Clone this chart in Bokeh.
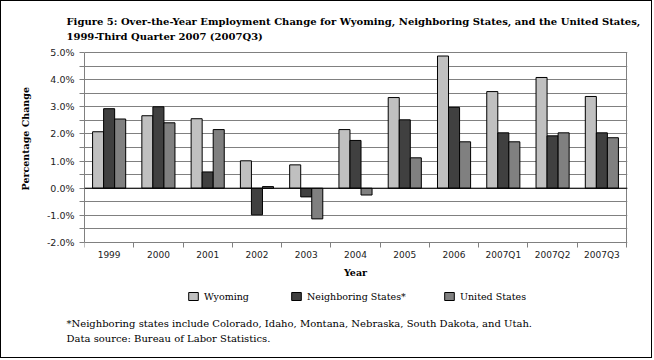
from bokeh.plotting import figure
from bokeh.models import (Range1d, FixedTicker, Legend, LegendItem, Span, Title,
                          PrintfTickFormatter, CustomJSTickFormatter, ColumnDataSource)
from bokeh.embed import file_html
from bokeh.resources import INLINE

# ---------------- data ----------------
categories = ["1999", "2000", "2001", "2002", "2003", "2004", "2005", "2006",
              "2007Q1", "2007Q2", "2007Q3"]
wyoming = [2.08, 2.67, 2.56, 1.01, 0.86, 2.16, 3.34, 4.87, 3.56, 4.08, 3.38]
neighboring = [2.93, 3.00, 0.60, -0.98, -0.32, 1.76, 2.52, 2.98, 2.04, 1.93, 2.04]
united_states = [2.55, 2.41, 2.16, 0.06, -1.13, -0.25, 1.12, 1.71, 1.71, 2.04, 1.86]
series_names = ["Wyoming", "Neighboring States*", "United States"]
y_major = [-2, -1, 0, 1, 2, 3, 4, 5]
y_minor = [-1.5, -0.5, 0.5, 1.5, 2.5, 3.5, 4.5]

title_text = ("Figure 5: Over-the-Year Employment Change for Wyoming, Neighboring States, and the United States,\n"
              "1999-Third Quarter 2007 (2007Q3)")
foot_text = ("*Neighboring states include Colorado, Idaho, Montana, Nebraska, South Dakota, and Utah.\n"
             "Data source: Bureau of Labor Statistics.")
y_title = "Percentage Change"
x_title = "Year"

# ---------------- layout (screen pixels of the reference) ----------------
B = 1                          # css border width
W, H = 652, 358
n = len(categories)
Y0, Y1 = y_major[0], y_major[-1]
PX_L, PX_R = 84, 626           # x = 0 .. n
PX_T, PX_B = 52, 242           # y = Y1 .. Y0
FT, FB = 51, 308               # frame top / bottom
FR = PX_R + 1
xu = n / (PX_R - PX_L)
yu = (Y1 - Y0) / (PX_B - PX_T)

p = figure(width=W, height=H, output_backend="svg", toolbar_location=None,
           x_range=Range1d(0, n + (FR - PX_R) * xu),
           y_range=Range1d(Y0 - (FB - PX_B) * yu, Y1 + (PX_T - FT) * yu),
           min_border_left=PX_L - B, min_border_top=FT - B,
           min_border_right=W - (PX_L - B) - (FR - PX_L),
           min_border_bottom=H - (FT - B) - (FB - FT),
           styles={"border": "1px solid black"})
p.background_fill_color = "white"
p.border_fill_color = "white"
p.outline_line_color = None

bw = 0.224
colors = ["#c0c0c0", "#404040", "#808080"]
renderers = []
for k, (vals, col) in enumerate(zip([wyoming, neighboring, united_states], colors)):
    src = ColumnDataSource(dict(x=[i + 0.5 + (k - 1) * bw for i in range(n)], top=vals))
    r = p.vbar(x="x", top="top", bottom=0, width=bw, source=src,
               fill_color=col, line_color="black", line_width=1)
    renderers.append(r)

# right edge of the plot area
p.segment(x0=[n], y0=[Y0], x1=[n], y1=[Y1], line_color="#808080", line_width=1)
p.add_layout(Span(location=0, dimension="width", line_color="black", line_width=1))

# grid
p.xgrid.visible = False
yt = FixedTicker(ticks=y_major, minor_ticks=y_minor)
p.yaxis.ticker = yt
p.ygrid.ticker = yt
p.ygrid.grid_line_color = "#808080"
p.ygrid.minor_grid_line_color = "#808080"

# y axis
ya = p.yaxis[0]
ya.bounds = (Y0, Y1)
ya.formatter = PrintfTickFormatter(format="%.1f%%")
ya.axis_line_color = "#808080"
ya.major_tick_line_color = "#808080"
ya.minor_tick_line_color = "#808080"
ya.major_tick_out = 5
ya.major_tick_in = 0
ya.minor_tick_out = 5
ya.minor_tick_in = 0
ya.major_label_standoff = 5
ya.major_label_text_font = "DejaVu Sans"
ya.major_label_text_font_size = "9.5px"
ya.major_label_text_color = "#222222"

# y title as a left-side title, bottom end at the reference position
p.add_layout(Title(text=y_title, align="left", vertical_align="middle",
                   offset=FB - 190, standoff=24,
                   text_font="DejaVu Serif", text_font_style="bold",
                   text_font_size="9.5px", text_color="black"), "left")

# x axis, fixed at the bottom of the value range
xa = p.xaxis[0]
xa.fixed_location = Y0
xa.bounds = (0, n)
xa.ticker = FixedTicker(ticks=[i + 0.5 for i in range(n)], minor_ticks=list(range(n + 1)))
xa.formatter = CustomJSTickFormatter(args=dict(cats=categories),
                                     code="return cats[Math.round(tick - 0.5)];")
xa.axis_line_color = "#808080"
xa.major_tick_out = 0
xa.major_tick_in = 0
xa.minor_tick_line_color = "#808080"
xa.minor_tick_out = 5
xa.minor_tick_in = 0
xa.major_label_standoff = 2
xa.major_label_text_font = "DejaVu Sans"
xa.major_label_text_font_size = "9px"
xa.major_label_text_color = "#222222"
xa.axis_label = x_title
xa.axis_label_text_font = "DejaVu Serif"
xa.axis_label_text_font_style = "bold"
xa.axis_label_text_font_size = "9.5px"
xa.axis_label_text_color = "black"
xa.axis_label_standoff = 4

# title
p.add_layout(Title(text=title_text, align="left", offset=66 - PX_L, standoff=18,
                   text_font="DejaVu Serif", text_font_style="bold",
                   text_font_size="10px", text_line_height=1.4,
                   text_color="black"), "above")

# footnotes
p.add_layout(Title(text=foot_text, align="left", offset=66 - PX_L, standoff=16,
                   text_font="DejaVu Serif", text_font_style="normal",
                   text_font_size="10px", text_line_height=1.4,
                   text_color="black"), "below")

# legends, one per series, inside the frame below the axis
leg_x = [187, 290, 443]
leg_cy = 296
lh = 12
for name, r, lx in zip(series_names, renderers, leg_x):
    leg = Legend(items=[LegendItem(label=name, renderers=[r])],
                 location=(lx - PX_L, FB - (leg_cy + lh / 2)), orientation="horizontal",
                 padding=0, margin=0, border_line_color=None,
                 background_fill_alpha=0, glyph_width=12, glyph_height=10,
                 label_height=lh, label_standoff=5,
                 label_text_font="DejaVu Serif", label_text_font_size="9.5px",
                 label_text_color="black")
    p.add_layout(leg)

open("out.html", "w").write(file_html(p, INLINE))
